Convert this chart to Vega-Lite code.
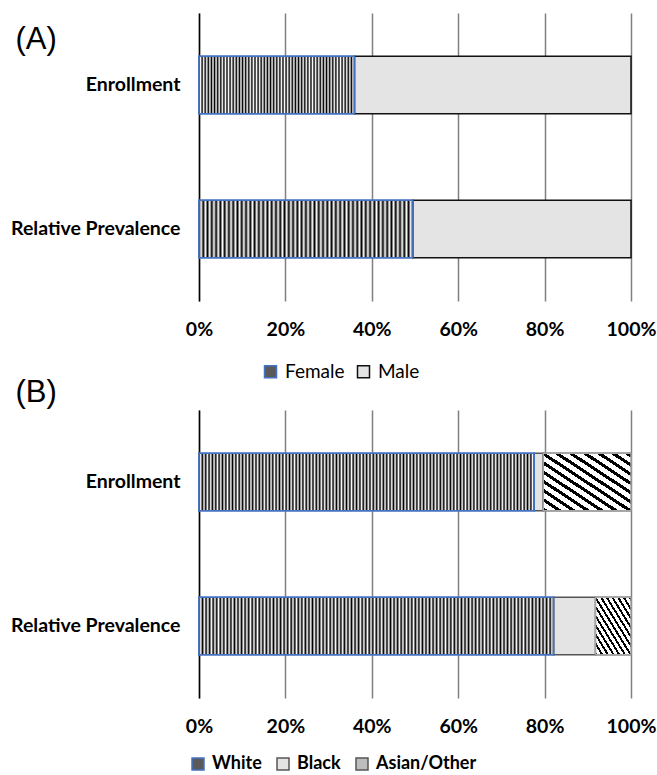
{
"$schema": "https://vega.github.io/schema/vega-lite/v6.json",
"background": "white",
"padding": {"left": 10, "top": 13, "right": 4, "bottom": 0},
"spacing": -5,
"config": {
  "view": {"stroke": null},
  "font": "Lato",
  "axis": {"labelFont": "Lato", "labelFontWeight": "bold", "labelFontSize": 19.5, "labelColor": "#000", "title": null},
  "title": {"font": "Liberation Sans", "fontSize": 31, "fontWeight": "normal", "color": "#000", "anchor": "start", "frame": "bounds"}
},
"resolve": {"scale": {"color": "independent", "stroke": "independent"}, "legend": {"color": "independent", "stroke": "independent"}},
"vconcat": [
{
  "title": {"text": "(A)", "offset": -43, "dx": 5},
  "width": 432, "height": 288,
  "data": {"values": [
    {"group": "Enrollment", "sex": "Female", "rank": 1, "share": 0.36},
    {"group": "Enrollment", "sex": "Male", "rank": 2, "share": 0.64},
    {"group": "Relative Prevalence", "sex": "Female", "rank": 1, "share": 0.495},
    {"group": "Relative Prevalence", "sex": "Male", "rank": 2, "share": 0.505}
  ]},
  "transform": [{"stack": "share", "groupby": ["group"], "sort": [{"field": "rank", "order": "ascending"}], "as": ["x0", "x1"]}],
  "encoding": {
    "y": {"field": "group", "type": "nominal", "sort": ["Enrollment", "Relative Prevalence"], "scale": {"paddingInner": 0.6, "paddingOuter": 0.3},
      "axis": {"domainColor": "#000", "domainWidth": 1.5, "ticks": false, "grid": false, "labelPadding": 19, "minExtent": 187, "maxExtent": 187}},
    "x": {"field": "x0", "type": "quantitative", "scale": {"domain": [0, 1], "nice": false},
      "axis": {"values": [0, 0.2, 0.4, 0.6, 0.8, 1], "format": ".0%", "domain": false, "ticks": false, "grid": true, "gridColor": "#808080", "gridWidth": 1.5, "labelPadding": 19, "labelFlush": false}},
    "x2": {"field": "x1"}
  },
  "layer": [
    {
      "mark": {"type": "bar", "strokeWidth": 1.5},
      "encoding": {
        "color": {"field": "sex", "type": "nominal",
          "scale": {"domain": ["Female", "Male"], "range": ["#5a5a5a", "#e4e4e4"]},
          "legend": {"orient": "none", "legendX": 62, "legendY": 349, "direction": "horizontal", "title": null, "symbolType": "square", "symbolSize": 144, "symbolStrokeWidth": 1.5, "labelFontSize": 19, "labelFont": "Lato", "labelColor": "#000", "columnPadding": 9, "labelOffset": 5, "padding": 0}},
        "stroke": {"field": "sex", "type": "nominal",
          "scale": {"domain": ["Female", "Male"], "range": ["#4472c4", "#111111"]},
          "legend": {"orient": "none", "legendX": 62, "legendY": 349, "direction": "horizontal", "title": null, "symbolType": "square", "symbolSize": 144, "symbolStrokeWidth": 1.5, "labelFontSize": 19, "labelFont": "Lato", "labelColor": "#000", "columnPadding": 9, "labelOffset": 5, "padding": 0}}
      }
    },
    {
      "transform": [{"filter": "datum.sex === 'Female'"}],
      "mark": {"type": "bar", "stroke": "#4472c4", "strokeWidth": 1.5,
        "fill": {"gradient": "linear", "x1": 0, "y1": 0, "x2": 1, "y2": 0, "stops": [
{"offset":0,"color":"#000"},{"offset":0.01,"color":"#fff"},{"offset":0.02,"color":"#000"},{"offset":0.03,"color":"#fff"},{"offset":0.04,"color":"#000"},{"offset":0.05,"color":"#fff"},{"offset":0.06,"color":"#000"},{"offset":0.07,"color":"#fff"},{"offset":0.08,"color":"#000"},{"offset":0.09,"color":"#fff"},
{"offset":0.1,"color":"#000"},{"offset":0.11,"color":"#fff"},{"offset":0.12,"color":"#000"},{"offset":0.13,"color":"#fff"},{"offset":0.14,"color":"#000"},{"offset":0.15,"color":"#fff"},{"offset":0.16,"color":"#000"},{"offset":0.17,"color":"#fff"},{"offset":0.18,"color":"#000"},{"offset":0.19,"color":"#fff"},
{"offset":0.2,"color":"#000"},{"offset":0.21,"color":"#fff"},{"offset":0.22,"color":"#000"},{"offset":0.23,"color":"#fff"},{"offset":0.24,"color":"#000"},{"offset":0.25,"color":"#fff"},{"offset":0.26,"color":"#000"},{"offset":0.27,"color":"#fff"},{"offset":0.28,"color":"#000"},{"offset":0.29,"color":"#fff"},
{"offset":0.3,"color":"#000"},{"offset":0.31,"color":"#fff"},{"offset":0.32,"color":"#000"},{"offset":0.33,"color":"#fff"},{"offset":0.34,"color":"#000"},{"offset":0.35,"color":"#fff"},{"offset":0.36,"color":"#000"},{"offset":0.37,"color":"#fff"},{"offset":0.38,"color":"#000"},{"offset":0.39,"color":"#fff"},
{"offset":0.4,"color":"#000"},{"offset":0.41,"color":"#fff"},{"offset":0.42,"color":"#000"},{"offset":0.43,"color":"#fff"},{"offset":0.44,"color":"#000"},{"offset":0.45,"color":"#fff"},{"offset":0.46,"color":"#000"},{"offset":0.47,"color":"#fff"},{"offset":0.48,"color":"#000"},{"offset":0.49,"color":"#fff"},
{"offset":0.5,"color":"#000"},{"offset":0.51,"color":"#fff"},{"offset":0.52,"color":"#000"},{"offset":0.53,"color":"#fff"},{"offset":0.54,"color":"#000"},{"offset":0.55,"color":"#fff"},{"offset":0.56,"color":"#000"},{"offset":0.57,"color":"#fff"},{"offset":0.58,"color":"#000"},{"offset":0.59,"color":"#fff"},
{"offset":0.6,"color":"#000"},{"offset":0.61,"color":"#fff"},{"offset":0.62,"color":"#000"},{"offset":0.63,"color":"#fff"},{"offset":0.64,"color":"#000"},{"offset":0.65,"color":"#fff"},{"offset":0.66,"color":"#000"},{"offset":0.67,"color":"#fff"},{"offset":0.68,"color":"#000"},{"offset":0.69,"color":"#fff"},
{"offset":0.7,"color":"#000"},{"offset":0.71,"color":"#fff"},{"offset":0.72,"color":"#000"},{"offset":0.73,"color":"#fff"},{"offset":0.74,"color":"#000"},{"offset":0.75,"color":"#fff"},{"offset":0.76,"color":"#000"},{"offset":0.77,"color":"#fff"},{"offset":0.78,"color":"#000"},{"offset":0.79,"color":"#fff"},
{"offset":0.8,"color":"#000"},{"offset":0.81,"color":"#fff"},{"offset":0.82,"color":"#000"},{"offset":0.83,"color":"#fff"},{"offset":0.84,"color":"#000"},{"offset":0.85,"color":"#fff"},{"offset":0.86,"color":"#000"},{"offset":0.87,"color":"#fff"},{"offset":0.88,"color":"#000"},{"offset":0.89,"color":"#fff"},
{"offset":0.9,"color":"#000"},{"offset":0.91,"color":"#fff"},{"offset":0.92,"color":"#000"},{"offset":0.93,"color":"#fff"},{"offset":0.94,"color":"#000"},{"offset":0.95,"color":"#fff"},{"offset":0.96,"color":"#000"},{"offset":0.97,"color":"#fff"},{"offset":0.98,"color":"#000"},{"offset":0.99,"color":"#fff"},{"offset":1,"color":"#000"}
        ]}}
    }
  ]
},
{
  "title": {"text": "(B)", "offset": 1, "dx": 5},
  "width": 432, "height": 288,
  "data": {"values": [
    {"group": "Enrollment", "race": "White", "rank": 1, "share": 0.776},
    {"group": "Enrollment", "race": "Black", "rank": 2, "share": 0.021},
    {"group": "Enrollment", "race": "Asian/Other", "rank": 3, "share": 0.203},
    {"group": "Relative Prevalence", "race": "White", "rank": 1, "share": 0.821},
    {"group": "Relative Prevalence", "race": "Black", "rank": 2, "share": 0.097},
    {"group": "Relative Prevalence", "race": "Asian/Other", "rank": 3, "share": 0.082}
  ]},
  "transform": [{"stack": "share", "groupby": ["group"], "sort": [{"field": "rank", "order": "ascending"}], "as": ["x0", "x1"]}],
  "encoding": {
    "y": {"field": "group", "type": "nominal", "sort": ["Enrollment", "Relative Prevalence"], "scale": {"paddingInner": 0.6, "paddingOuter": 0.3},
      "axis": {"domainColor": "#000", "domainWidth": 1.5, "ticks": false, "grid": false, "labelPadding": 19, "minExtent": 187, "maxExtent": 187}},
    "x": {"field": "x0", "type": "quantitative", "scale": {"domain": [0, 1], "nice": false},
      "axis": {"values": [0, 0.2, 0.4, 0.6, 0.8, 1], "format": ".0%", "domain": false, "ticks": false, "grid": true, "gridColor": "#808080", "gridWidth": 1.5, "labelPadding": 19, "labelFlush": false}},
    "x2": {"field": "x1"}
  },
  "layer": [
    {
      "mark": {"type": "bar", "strokeWidth": 1.5},
      "encoding": {
        "color": {"field": "race", "type": "nominal", "sort": ["White", "Black", "Asian/Other"],
          "scale": {"domain": ["White", "Black", "Asian/Other"], "range": ["#5a5a5a", "#e4e4e4", "#bdbdbd"]},
          "legend": {"orient": "none", "legendX": -10, "legendY": 345, "direction": "horizontal", "title": null, "symbolType": "square", "symbolSize": 144, "symbolStrokeWidth": 1.5, "labelFontSize": 18, "labelFont": "Lato", "labelFontWeight": "bold", "labelColor": "#000", "columnPadding": 12, "labelOffset": 5, "padding": 0}},
        "stroke": {"field": "race", "type": "nominal", "sort": ["White", "Black", "Asian/Other"],
          "scale": {"domain": ["White", "Black", "Asian/Other"], "range": ["#4472c4", "#555555", "#555555"]},
          "legend": {"orient": "none", "legendX": -10, "legendY": 345, "direction": "horizontal", "title": null, "symbolType": "square", "symbolSize": 144, "symbolStrokeWidth": 1.5, "labelFontSize": 18, "labelFont": "Lato", "labelFontWeight": "bold", "labelColor": "#000", "columnPadding": 12, "labelOffset": 5, "padding": 0}}
      }
    },
    {
      "transform": [{"filter": "datum.race === 'White'"}],
      "mark": {"type": "bar", "stroke": "#4472c4", "strokeWidth": 1.5,
        "fill": {"gradient": "linear", "x1": 0, "y1": 0, "x2": 1, "y2": 0, "stops": [
{"offset":0,"color":"#000"},{"offset":0.005,"color":"#fff"},{"offset":0.01,"color":"#000"},{"offset":0.015,"color":"#fff"},{"offset":0.02,"color":"#000"},{"offset":0.025,"color":"#fff"},{"offset":0.03,"color":"#000"},{"offset":0.035,"color":"#fff"},{"offset":0.04,"color":"#000"},{"offset":0.045,"color":"#fff"},
{"offset":0.05,"color":"#000"},{"offset":0.055,"color":"#fff"},{"offset":0.06,"color":"#000"},{"offset":0.065,"color":"#fff"},{"offset":0.07,"color":"#000"},{"offset":0.075,"color":"#fff"},{"offset":0.08,"color":"#000"},{"offset":0.085,"color":"#fff"},{"offset":0.09,"color":"#000"},{"offset":0.095,"color":"#fff"},
{"offset":0.1,"color":"#000"},{"offset":0.105,"color":"#fff"},{"offset":0.11,"color":"#000"},{"offset":0.115,"color":"#fff"},{"offset":0.12,"color":"#000"},{"offset":0.125,"color":"#fff"},{"offset":0.13,"color":"#000"},{"offset":0.135,"color":"#fff"},{"offset":0.14,"color":"#000"},{"offset":0.145,"color":"#fff"},
{"offset":0.15,"color":"#000"},{"offset":0.155,"color":"#fff"},{"offset":0.16,"color":"#000"},{"offset":0.165,"color":"#fff"},{"offset":0.17,"color":"#000"},{"offset":0.175,"color":"#fff"},{"offset":0.18,"color":"#000"},{"offset":0.185,"color":"#fff"},{"offset":0.19,"color":"#000"},{"offset":0.195,"color":"#fff"},
{"offset":0.2,"color":"#000"},{"offset":0.205,"color":"#fff"},{"offset":0.21,"color":"#000"},{"offset":0.215,"color":"#fff"},{"offset":0.22,"color":"#000"},{"offset":0.225,"color":"#fff"},{"offset":0.23,"color":"#000"},{"offset":0.235,"color":"#fff"},{"offset":0.24,"color":"#000"},{"offset":0.245,"color":"#fff"},
{"offset":0.25,"color":"#000"},{"offset":0.255,"color":"#fff"},{"offset":0.26,"color":"#000"},{"offset":0.265,"color":"#fff"},{"offset":0.27,"color":"#000"},{"offset":0.275,"color":"#fff"},{"offset":0.28,"color":"#000"},{"offset":0.285,"color":"#fff"},{"offset":0.29,"color":"#000"},{"offset":0.295,"color":"#fff"},
{"offset":0.3,"color":"#000"},{"offset":0.305,"color":"#fff"},{"offset":0.31,"color":"#000"},{"offset":0.315,"color":"#fff"},{"offset":0.32,"color":"#000"},{"offset":0.325,"color":"#fff"},{"offset":0.33,"color":"#000"},{"offset":0.335,"color":"#fff"},{"offset":0.34,"color":"#000"},{"offset":0.345,"color":"#fff"},
{"offset":0.35,"color":"#000"},{"offset":0.355,"color":"#fff"},{"offset":0.36,"color":"#000"},{"offset":0.365,"color":"#fff"},{"offset":0.37,"color":"#000"},{"offset":0.375,"color":"#fff"},{"offset":0.38,"color":"#000"},{"offset":0.385,"color":"#fff"},{"offset":0.39,"color":"#000"},{"offset":0.395,"color":"#fff"},
{"offset":0.4,"color":"#000"},{"offset":0.405,"color":"#fff"},{"offset":0.41,"color":"#000"},{"offset":0.415,"color":"#fff"},{"offset":0.42,"color":"#000"},{"offset":0.425,"color":"#fff"},{"offset":0.43,"color":"#000"},{"offset":0.435,"color":"#fff"},{"offset":0.44,"color":"#000"},{"offset":0.445,"color":"#fff"},
{"offset":0.45,"color":"#000"},{"offset":0.455,"color":"#fff"},{"offset":0.46,"color":"#000"},{"offset":0.465,"color":"#fff"},{"offset":0.47,"color":"#000"},{"offset":0.475,"color":"#fff"},{"offset":0.48,"color":"#000"},{"offset":0.485,"color":"#fff"},{"offset":0.49,"color":"#000"},{"offset":0.495,"color":"#fff"},
{"offset":0.5,"color":"#000"},{"offset":0.505,"color":"#fff"},{"offset":0.51,"color":"#000"},{"offset":0.515,"color":"#fff"},{"offset":0.52,"color":"#000"},{"offset":0.525,"color":"#fff"},{"offset":0.53,"color":"#000"},{"offset":0.535,"color":"#fff"},{"offset":0.54,"color":"#000"},{"offset":0.545,"color":"#fff"},
{"offset":0.55,"color":"#000"},{"offset":0.555,"color":"#fff"},{"offset":0.56,"color":"#000"},{"offset":0.565,"color":"#fff"},{"offset":0.57,"color":"#000"},{"offset":0.575,"color":"#fff"},{"offset":0.58,"color":"#000"},{"offset":0.585,"color":"#fff"},{"offset":0.59,"color":"#000"},{"offset":0.595,"color":"#fff"},
{"offset":0.6,"color":"#000"},{"offset":0.605,"color":"#fff"},{"offset":0.61,"color":"#000"},{"offset":0.615,"color":"#fff"},{"offset":0.62,"color":"#000"},{"offset":0.625,"color":"#fff"},{"offset":0.63,"color":"#000"},{"offset":0.635,"color":"#fff"},{"offset":0.64,"color":"#000"},{"offset":0.645,"color":"#fff"},
{"offset":0.65,"color":"#000"},{"offset":0.655,"color":"#fff"},{"offset":0.66,"color":"#000"},{"offset":0.665,"color":"#fff"},{"offset":0.67,"color":"#000"},{"offset":0.675,"color":"#fff"},{"offset":0.68,"color":"#000"},{"offset":0.685,"color":"#fff"},{"offset":0.69,"color":"#000"},{"offset":0.695,"color":"#fff"},
{"offset":0.7,"color":"#000"},{"offset":0.705,"color":"#fff"},{"offset":0.71,"color":"#000"},{"offset":0.715,"color":"#fff"},{"offset":0.72,"color":"#000"},{"offset":0.725,"color":"#fff"},{"offset":0.73,"color":"#000"},{"offset":0.735,"color":"#fff"},{"offset":0.74,"color":"#000"},{"offset":0.745,"color":"#fff"},
{"offset":0.75,"color":"#000"},{"offset":0.755,"color":"#fff"},{"offset":0.76,"color":"#000"},{"offset":0.765,"color":"#fff"},{"offset":0.77,"color":"#000"},{"offset":0.775,"color":"#fff"},{"offset":0.78,"color":"#000"},{"offset":0.785,"color":"#fff"},{"offset":0.79,"color":"#000"},{"offset":0.795,"color":"#fff"},
{"offset":0.8,"color":"#000"},{"offset":0.805,"color":"#fff"},{"offset":0.81,"color":"#000"},{"offset":0.815,"color":"#fff"},{"offset":0.82,"color":"#000"},{"offset":0.825,"color":"#fff"},{"offset":0.83,"color":"#000"},{"offset":0.835,"color":"#fff"},{"offset":0.84,"color":"#000"},{"offset":0.845,"color":"#fff"},
{"offset":0.85,"color":"#000"},{"offset":0.855,"color":"#fff"},{"offset":0.86,"color":"#000"},{"offset":0.865,"color":"#fff"},{"offset":0.87,"color":"#000"},{"offset":0.875,"color":"#fff"},{"offset":0.88,"color":"#000"},{"offset":0.885,"color":"#fff"},{"offset":0.89,"color":"#000"},{"offset":0.895,"color":"#fff"},
{"offset":0.9,"color":"#000"},{"offset":0.905,"color":"#fff"},{"offset":0.91,"color":"#000"},{"offset":0.915,"color":"#fff"},{"offset":0.92,"color":"#000"},{"offset":0.925,"color":"#fff"},{"offset":0.93,"color":"#000"},{"offset":0.935,"color":"#fff"},{"offset":0.94,"color":"#000"},{"offset":0.945,"color":"#fff"},
{"offset":0.95,"color":"#000"},{"offset":0.955,"color":"#fff"},{"offset":0.96,"color":"#000"},{"offset":0.965,"color":"#fff"},{"offset":0.97,"color":"#000"},{"offset":0.975,"color":"#fff"},{"offset":0.98,"color":"#000"},{"offset":0.985,"color":"#fff"},{"offset":0.99,"color":"#000"},{"offset":0.995,"color":"#fff"},{"offset":1,"color":"#000"}
        ]}}
    },
    {
      "transform": [{"filter": "datum.race === 'Asian/Other'"}],
      "mark": {"type": "bar", "stroke": "#a6a6a6", "strokeWidth": 1.5,
        "fill": {"gradient": "linear", "x1": 0, "y1": 1, "x2": 1, "y2": 0, "stops": [
{"offset":0,"color":"#000"},{"offset":0.032,"color":"#000"},{"offset":0.032,"color":"#fff"},{"offset":0.08,"color":"#fff"},
{"offset":0.08,"color":"#000"},{"offset":0.112,"color":"#000"},{"offset":0.112,"color":"#fff"},{"offset":0.16,"color":"#fff"},
{"offset":0.16,"color":"#000"},{"offset":0.192,"color":"#000"},{"offset":0.192,"color":"#fff"},{"offset":0.24,"color":"#fff"},
{"offset":0.24,"color":"#000"},{"offset":0.272,"color":"#000"},{"offset":0.272,"color":"#fff"},{"offset":0.32,"color":"#fff"},
{"offset":0.32,"color":"#000"},{"offset":0.352,"color":"#000"},{"offset":0.352,"color":"#fff"},{"offset":0.4,"color":"#fff"},
{"offset":0.4,"color":"#000"},{"offset":0.432,"color":"#000"},{"offset":0.432,"color":"#fff"},{"offset":0.48,"color":"#fff"},
{"offset":0.48,"color":"#000"},{"offset":0.512,"color":"#000"},{"offset":0.512,"color":"#fff"},{"offset":0.56,"color":"#fff"},
{"offset":0.56,"color":"#000"},{"offset":0.592,"color":"#000"},{"offset":0.592,"color":"#fff"},{"offset":0.64,"color":"#fff"},
{"offset":0.64,"color":"#000"},{"offset":0.672,"color":"#000"},{"offset":0.672,"color":"#fff"},{"offset":0.72,"color":"#fff"},
{"offset":0.72,"color":"#000"},{"offset":0.752,"color":"#000"},{"offset":0.752,"color":"#fff"},{"offset":0.8,"color":"#fff"},
{"offset":0.8,"color":"#000"},{"offset":0.832,"color":"#000"},{"offset":0.832,"color":"#fff"},{"offset":0.88,"color":"#fff"},
{"offset":0.88,"color":"#000"},{"offset":0.912,"color":"#000"},{"offset":0.912,"color":"#fff"},{"offset":0.96,"color":"#fff"},
{"offset":0.96,"color":"#000"},{"offset":0.992,"color":"#000"},{"offset":0.992,"color":"#fff"},{"offset":1,"color":"#fff"}
        ]}}
    }
  ]
}
]
}
